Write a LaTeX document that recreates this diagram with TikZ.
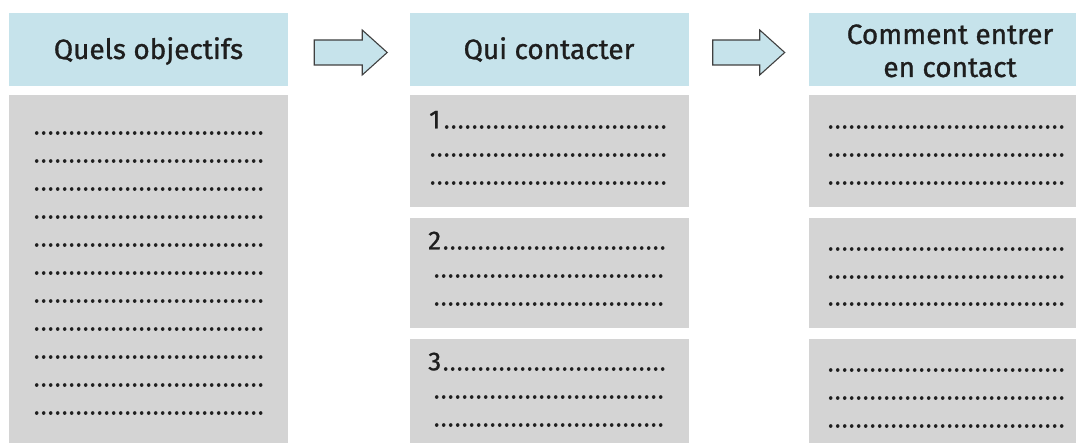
\documentclass[tikz,border=0pt]{standalone}
\usepackage{fontspec}
\setmainfont{Fira Sans}
\newfontfamily\hdrfont{Fira Sans}[FakeBold=1.0]
\newfontfamily\dotfont{Fira Sans}[FakeBold=2.2]
\usetikzlibrary{calc}
\definecolor{hdrblue}{HTML}{C6E3EB}
\definecolor{panegray}{HTML}{D4D4D4}
\definecolor{inkc}{HTML}{1E1E1E}
\newcommand\dotrow[1]{\makebox[#1][l]{\leaders\hbox to 7pt{\hss.\hss}\hfill}}
\newcommand\numrow[2]{\makebox[#2][l]{{\hdrfont\fontsize{26}{26}\selectfont #1}\leaders\hbox to 7pt{\hss.\hss}\hfill}}
\tikzset{
  hdrbox/.style={fill=hdrblue, inner sep=0pt, minimum width=279pt, minimum height=73pt,
    text=inkc, font=\hdrfont\fontsize{28}{33}\selectfont},
  panebox/.style={fill=panegray, inner sep=0pt, minimum width=279pt},
  dotline/.style={anchor=base west, inner sep=0pt, text=inkc, font=\dotfont\fontsize{22}{22}\selectfont},
  blockarrow/.style={draw=inkc!85, fill=hdrblue, line width=1.1pt, line join=miter}
}
\begin{document}
\begin{tikzpicture}[x=1pt,y=-1pt]
\useasboundingbox (0,0) rectangle (1076,443);
\fill[white] (0,0) rectangle (1076,443);
% headers
\node[hdrbox, text height=19pt, text depth=0pt] (h1) at (148.5,49.5) {Quels objectifs};
\node[hdrbox, text height=19pt, text depth=0pt] (h2) at (549,49.5) {Qui contacter};
\node[hdrbox] (h3) at (948,49.5) {\hspace*{4pt}\raisebox{0pt}[19pt][30pt]{\begin{tabular}[t]{@{}c@{}}Comment entrer\\en contact\end{tabular}}};
% panes
\node[panebox, minimum height=350pt, anchor=north] (p1) at (148.5,95) {};
\node[panebox, minimum height=112pt, anchor=north] (p2a) at (549,95) {};
\node[panebox, minimum height=110pt, anchor=north] (p2b) at (549,218) {};
\node[panebox, minimum height=106pt, anchor=north] (p2c) at (549,339) {};
\node[panebox, minimum height=112pt, anchor=north] (p3a) at (948,95) {};
\node[panebox, minimum height=110pt, anchor=north] (p3b) at (948,218) {};
\node[panebox, minimum height=106pt, anchor=north] (p3c) at (948,339) {};
% arrows
\draw[blockarrow] ($(h1.east)+(26,-9.5)$) coordinate (a1) -- ++(48,0) -- ++(0,-10) -- ++(25,22.5) -- ++(-25,22.5) -- ++(0,-10) -- ++(-48,0) -- cycle;
\draw[blockarrow] ($(h2.east)+(24,-9.5)$) coordinate (a2) -- ++(47,0) -- ++(0,-10) -- ++(25,22.5) -- ++(-25,22.5) -- ++(0,-10) -- ++(-47,0) -- cycle;
% dotted lines, column 1
\foreach \i in {0,...,10}{
  \node[dotline] (d1-\i) at (33,{134.3+28*\i}) {\dotrow{235pt}};
}
% column 2
\node[dotline] (n1) at (429,128.3) {\numrow{1}{242pt}};
\node[dotline] (d2a1) at (429,156.3) {\dotrow{242pt}};
\node[dotline] (d2a2) at (429,184.3) {\dotrow{242pt}};
\node[dotline] (n2) at (428,249.3) {\numrow{2}{243pt}};
\node[dotline] (d2b1) at (433,277.3) {\dotrow{235pt}};
\node[dotline] (d2b2) at (433,305.3) {\dotrow{235pt}};
\node[dotline] (n3) at (428,370.3) {\numrow{3}{243pt}};
\node[dotline] (d2c1) at (433,398.3) {\dotrow{235pt}};
\node[dotline] (d2c2) at (433,426.3) {\dotrow{235pt}};
% column 3
\foreach \y in {128.3,156.3,184.3,250.3,278.3,305.3,371.3,399.3,427.3}{
  \node[dotline] at (827,\y) {\dotrow{241pt}};
}
\end{tikzpicture}
\end{document}
